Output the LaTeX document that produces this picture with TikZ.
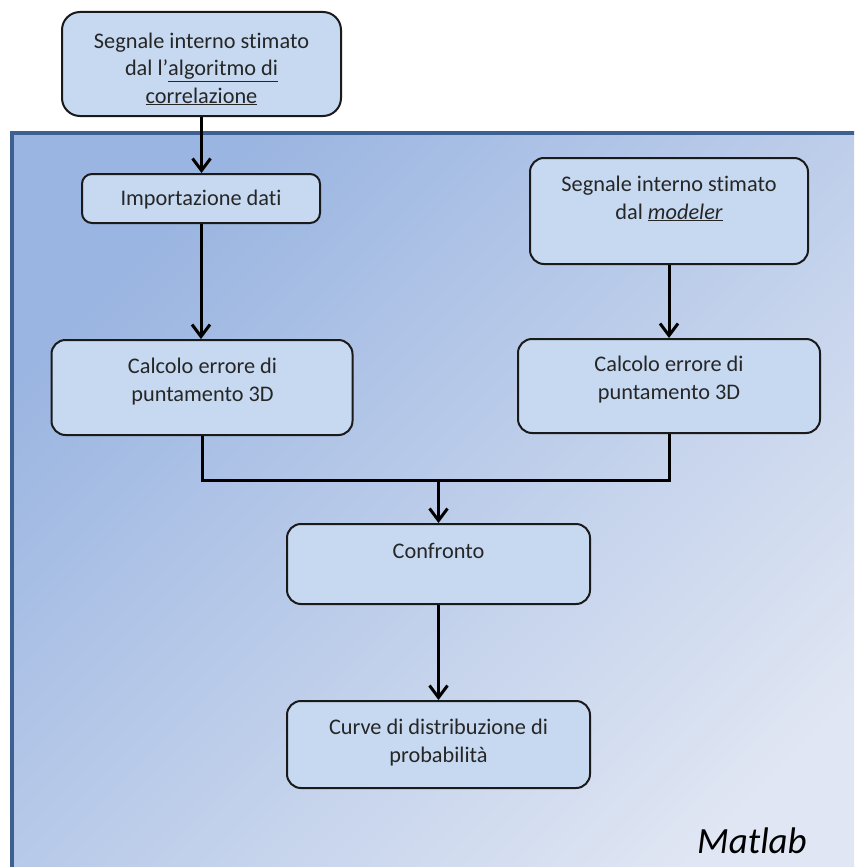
\documentclass[tikz,border=0pt]{standalone}
\usepackage{fontspec}
\setmainfont{Carlito}[Ligatures={TeX,NoCommon}]
\usetikzlibrary{arrows.meta}

\definecolor{boxfill}{HTML}{C6D9F1}
\definecolor{boxline}{HTML}{1A1A1A}
\definecolor{inktext}{HTML}{262626}
\definecolor{panelA}{HTML}{9AB5E1}
\definecolor{panelB}{HTML}{E0E6F3}
\definecolor{panelframe}{HTML}{3B6091}

\tikzset{
  box/.style={draw=boxline, fill=boxfill, line width=2pt, rounded corners=14pt, inner sep=0pt},
  txt/.style={inner sep=0pt, align=center, text=inktext, font=\fontsize{22.3}{27.3}\selectfont},
  conn/.style={line width=3pt, draw=black, -{Straight Barb[length=12pt,width=18pt]}},
  wire/.style={line width=3pt, draw=black}
}

\begin{document}
\begin{tikzpicture}[x=1pt,y=-1pt]
  \useasboundingbox (0,0) rectangle (854,867);

  % Matlab panel: shaded area with a frame on its top and left edges
  \begin{scope}
    \clip (0,0) rectangle (854,867);
    \shade[shading=axis, top color=panelA, bottom color=panelB, shading angle=45]
      (12,133) rectangle (900,900);
    \draw[line width=4pt, panelframe] (12,900) -- (12,133) -- (900,133);
  \end{scope}

  % boxes
  \node[box, minimum width=279pt, minimum height=104pt, rounded corners=18pt] (src) at (201.5,64) {};
  \node[box, minimum width=238pt, minimum height=49pt, rounded corners=10pt] (imp) at (201,198.5) {};
  \node[box, minimum width=278pt, minimum height=106pt] (mod) at (669,211) {};
  \node[box, minimum width=301pt, minimum height=95pt] (calcL) at (202,387.5) {};
  \node[box, minimum width=302pt, minimum height=94pt] (calcR) at (669,386) {};
  \node[box, minimum width=303pt, minimum height=80pt] (cmp) at (438.5,564) {};
  \node[box, minimum width=303pt, minimum height=87pt] (prob) at (438.5,744.5) {};

  % box texts (anchored on the baseline of their last line)
  \node[txt, anchor=base] (srcT) at (201.5,103)
    {Segnale interno stimato\\dal l'\underline{algoritmo di}\\\underline{correlazione}};
  \node[txt, anchor=base] (impT) at (201,205) {Importazione dati};
  \node[txt, anchor=base] (modT) at (669,219)
    {Segnale interno stimato\\dal \underline{\itshape modeler}};
  \node[txt, anchor=base] (calcLT) at (202.5,401) {Calcolo errore di\\puntamento 3D};
  \node[txt, anchor=base] (calcRT) at (669,399) {Calcolo errore di\\puntamento 3D};
  \node[txt, anchor=base] (cmpT) at (438.5,558) {Confronto};
  \node[txt, anchor=base] (probT) at (438.5,762) {Curve di distribuzione di\\probabilità};

  \node[inner sep=0pt, anchor=base west, text=black, font=\fontsize{37}{44}\selectfont\itshape]
    (mat) at (697,853) {Matlab};

  % connectors
  \coordinate (join) at (438.5,480);
  \draw[conn] (src.south) -- (src.south |- imp.north);
  \draw[conn] (imp.south) -- (imp.south |- calcL.north);
  \draw[conn] (mod.south) -- (mod.south |- calcR.north);
  \draw[wire] (calcL.south) |- (join) -| (calcR.south);
  \draw[conn] (join) -- (cmp.north);
  \draw[conn] (cmp.south) -- (prob.north);
\end{tikzpicture}
\end{document}
